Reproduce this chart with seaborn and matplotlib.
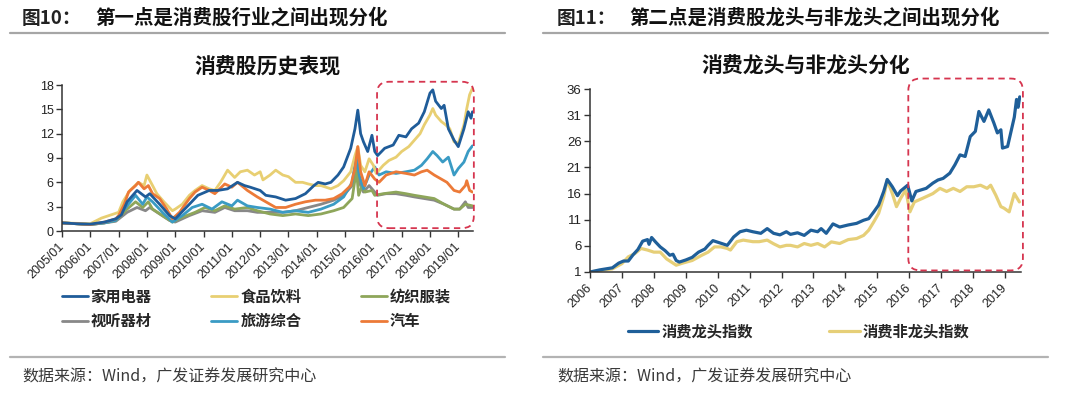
import pandas as pd
import matplotlib
matplotlib.use("Agg")
import matplotlib.pyplot as plt
import seaborn as sns
from matplotlib.patches import FancyBboxPatch
from matplotlib.lines import Line2D

# --- left chart: 消费股历史表现 (decimal years, index values) ---
jd_t = [2005.0, 2005.5, 2006.0, 2006.5, 2006.9, 2007.1, 2007.3, 2007.65, 2007.95, 2008.1, 2008.45, 2008.8,
        2009.0, 2009.5, 2009.8, 2010.2, 2010.5, 2010.85, 2011.2, 2011.45, 2011.65, 2012.0, 2012.2, 2012.55,
        2012.9, 2013.25, 2013.6, 2013.9, 2014.05, 2014.3, 2014.5, 2014.75, 2014.95, 2015.2, 2015.35, 2015.45,
        2015.55, 2015.65, 2015.8, 2015.95, 2016.05, 2016.15, 2016.4, 2016.7, 2016.9, 2017.15, 2017.35, 2017.6,
        2017.8, 2018.0, 2018.1, 2018.2, 2018.4, 2018.5, 2018.65, 2018.85, 2019.0, 2019.2, 2019.35, 2019.45, 2019.5]
jd_v = [1.0, 0.9, 0.85, 1.1, 1.5, 2.0, 3.6, 5.0, 4.2, 4.6, 3.3, 1.9,
        1.5, 3.3, 4.4, 5.0, 5.0, 5.2, 6.0, 5.6, 5.4, 5.0, 4.4, 4.2,
        3.8, 4.0, 4.6, 5.6, 6.0, 5.8, 6.0, 6.9, 7.9, 10.2, 12.6, 14.9,
        12.0, 11.0, 9.8, 11.8, 9.8, 9.3, 10.2, 10.6, 11.8, 11.6, 12.6, 13.3,
        14.7, 17.0, 17.4, 16.0, 15.1, 15.5, 12.6, 11.2, 10.4, 12.6, 14.7, 13.9, 14.7]

sp_t = [2005.0, 2005.5, 2006.0, 2006.4, 2007.0, 2007.15, 2007.4, 2007.7, 2007.9, 2008.0, 2008.2, 2008.35,
        2008.6, 2008.9, 2009.0, 2009.25, 2009.5, 2009.7, 2009.95, 2010.2, 2010.4, 2010.6, 2010.85, 2011.1,
        2011.3, 2011.55, 2011.8, 2012.0, 2012.1, 2012.35, 2012.55, 2012.8, 2013.0, 2013.25, 2013.5, 2013.7,
        2013.95, 2014.15, 2014.5, 2014.75, 2014.95, 2015.2, 2015.35, 2015.45, 2015.55, 2015.7, 2015.85, 2016.0,
        2016.1, 2016.35, 2016.55, 2016.8, 2017.0, 2017.25, 2017.45, 2017.65, 2017.8, 2018.0, 2018.1, 2018.2,
        2018.4, 2018.55, 2018.7, 2018.85, 2019.0, 2019.2, 2019.3, 2019.4, 2019.5]
sp_v = [1.0, 0.95, 0.9, 1.6, 2.3, 3.6, 5.0, 6.0, 5.6, 6.9, 5.6, 4.6,
        3.6, 2.5, 2.7, 3.3, 4.4, 5.0, 5.6, 5.2, 5.0, 6.0, 7.5, 6.6,
        7.3, 7.5, 6.9, 7.3, 6.3, 6.9, 7.5, 6.9, 6.7, 6.0, 6.0, 5.8,
        5.6, 5.6, 5.2, 5.6, 6.2, 7.3, 9.3, 10.4, 8.1, 7.3, 8.9, 8.1,
        7.1, 8.1, 8.7, 9.1, 9.8, 10.4, 11.2, 12.0, 13.1, 14.3, 15.1, 14.3,
        13.5, 13.1, 12.6, 11.0, 10.8, 13.1, 15.1, 16.8, 17.6]

fz_t = [2005.0, 2005.5, 2006.0, 2006.5, 2006.9, 2007.3, 2007.6, 2007.85, 2008.05, 2008.2, 2008.55, 2008.9,
        2009.25, 2009.7, 2010.05, 2010.4, 2010.75, 2011.1, 2011.55, 2011.9, 2012.35, 2012.8, 2013.25, 2013.7,
        2014.15, 2014.6, 2014.95, 2015.25, 2015.4, 2015.48, 2015.6, 2015.7, 2015.95, 2016.05, 2016.35, 2016.8,
        2017.15, 2017.45, 2017.8, 2018.15, 2018.5, 2018.85, 2019.05, 2019.25, 2019.5]
fz_v = [1.0, 0.9, 0.8, 1.0, 1.3, 2.7, 3.6, 2.9, 3.6, 2.7, 1.9, 1.1,
        1.7, 2.3, 2.9, 2.5, 3.1, 2.7, 2.9, 2.5, 2.1, 1.9, 2.1, 1.9,
        2.1, 2.5, 2.9, 4.0, 7.5, 4.4, 5.6, 4.8, 5.0, 4.4, 4.6, 4.8,
        4.6, 4.4, 4.2, 4.0, 3.3, 2.7, 2.7, 3.3, 3.1]

st_t = [2005.0, 2005.5, 2006.0, 2006.5, 2006.9, 2007.3, 2007.65, 2007.95, 2008.1, 2008.45, 2008.8, 2009.0,
        2009.5, 2009.95, 2010.4, 2010.75, 2011.1, 2011.55, 2011.9, 2012.35, 2012.8, 2013.25, 2013.7, 2014.15,
        2014.6, 2014.95, 2015.25, 2015.4, 2015.5, 2015.65, 2015.85, 2016.0, 2016.15, 2016.45, 2016.8, 2017.15,
        2017.45, 2017.8, 2018.15, 2018.5, 2018.85, 2019.05, 2019.25, 2019.35, 2019.5]
st_v = [1.0, 0.9, 0.8, 1.0, 1.2, 2.3, 2.9, 2.5, 2.9, 2.1, 1.3, 1.1,
        1.9, 2.5, 2.3, 2.9, 2.5, 2.5, 2.3, 2.3, 2.3, 2.5, 2.9, 3.3,
        3.8, 4.4, 5.6, 8.1, 6.0, 4.8, 5.6, 5.0, 4.4, 4.6, 4.6, 4.4,
        4.2, 4.0, 3.8, 3.3, 2.7, 2.7, 3.6, 2.9, 2.9]

ly_t = [2005.0, 2005.5, 2006.0, 2006.5, 2006.9, 2007.3, 2007.6, 2007.85, 2008.0, 2008.2, 2008.55, 2008.9,
        2009.25, 2009.6, 2009.95, 2010.3, 2010.65, 2011.0, 2011.2, 2011.55, 2011.9, 2012.35, 2012.8, 2013.25,
        2013.7, 2014.15, 2014.6, 2014.95, 2015.25, 2015.4, 2015.5, 2015.65, 2015.85, 2016.05, 2016.2, 2016.45,
        2016.8, 2017.15, 2017.45, 2017.7, 2017.9, 2018.1, 2018.25, 2018.45, 2018.65, 2018.85, 2019.0, 2019.2,
        2019.35, 2019.5]
ly_v = [1.0, 0.9, 0.8, 1.0, 1.3, 3.1, 4.4, 3.3, 4.2, 3.6, 2.3, 1.1,
        1.9, 2.9, 3.3, 2.7, 3.6, 3.1, 3.8, 3.1, 2.9, 2.7, 2.3, 2.5,
        2.3, 2.7, 3.3, 4.2, 6.0, 9.3, 6.9, 5.2, 6.9, 7.9, 6.9, 7.3,
        7.1, 7.3, 7.5, 8.1, 8.9, 9.8, 9.3, 8.5, 9.1, 6.9, 7.7, 8.5,
        9.8, 10.5]

qc_t = [2005.0, 2005.5, 2006.0, 2006.5, 2006.9, 2007.0, 2007.2, 2007.35, 2007.6, 2007.7, 2007.9, 2008.05,
        2008.2, 2008.45, 2008.7, 2008.9, 2009.15, 2009.5, 2009.7, 2009.95, 2010.2, 2010.4, 2010.75, 2011.0,
        2011.2, 2011.55, 2011.9, 2012.2, 2012.55, 2012.9, 2013.25, 2013.6, 2013.95, 2014.3, 2014.6, 2014.9,
        2015.2, 2015.35, 2015.45, 2015.55, 2015.7, 2015.85, 2016.05, 2016.2, 2016.45, 2016.8, 2017.15, 2017.45,
        2017.7, 2017.9, 2018.15, 2018.4, 2018.6, 2018.85, 2019.05, 2019.25, 2019.3, 2019.4, 2019.5]
qc_v = [1.0, 0.9, 0.8, 1.1, 1.5, 1.9, 3.3, 4.8, 5.6, 6.0, 5.2, 5.6,
        4.6, 4.0, 2.7, 1.5, 2.3, 4.0, 4.8, 5.4, 5.0, 4.6, 5.8, 5.4,
        6.0, 5.0, 4.2, 3.6, 2.9, 2.9, 3.3, 3.6, 3.8, 3.8, 4.0, 4.6,
        5.6, 7.7, 10.4, 7.3, 5.6, 7.3, 6.4, 6.0, 6.9, 7.3, 7.1, 6.9,
        7.3, 7.5, 6.9, 6.4, 6.0, 5.0, 4.8, 5.6, 6.2, 5.0, 4.8]

left_names = ["家用电器", "食品饮料", "纺织服装", "视听器材", "旅游综合", "汽车"]
left_colors = ["#1f5c99", "#e8cf72", "#8ea65a", "#888888", "#3a9bc4", "#ec7a38"]
left_draw_order = ["视听器材", "纺织服装", "旅游综合", "食品饮料", "汽车", "家用电器"]
left_years = list(range(2005, 2020))

# --- right chart: 消费龙头与非龙头分化 ---
lt_t = [2006.0, 2006.3, 2006.7, 2006.9, 2007.05, 2007.2, 2007.35, 2007.5, 2007.65, 2007.8, 2007.85, 2007.93,
        2008.06, 2008.2, 2008.35, 2008.5, 2008.6, 2008.7, 2008.8, 2009.0, 2009.2, 2009.4, 2009.6, 2009.7,
        2009.85, 2010.0, 2010.15, 2010.3, 2010.5, 2010.7, 2010.9, 2011.1, 2011.35, 2011.55, 2011.75, 2011.95,
        2012.15, 2012.28, 2012.5, 2012.71, 2012.92, 2013.13, 2013.24, 2013.4, 2013.61, 2013.82, 2014.09, 2014.35,
        2014.57, 2014.73, 2014.89, 2015.04, 2015.2, 2015.31, 2015.47, 2015.63, 2015.73, 2015.95, 2016.08, 2016.21,
        2016.53, 2016.74, 2016.9, 2017.06, 2017.27, 2017.43, 2017.59, 2017.75, 2017.91, 2018.07, 2018.18, 2018.34,
        2018.49, 2018.65, 2018.76, 2018.87, 2018.92, 2019.08, 2019.29, 2019.36, 2019.41, 2019.46]
lt_v = [1.0, 1.4, 1.8, 2.7, 3.1, 3.1, 4.3, 5.3, 6.9, 7.2, 6.3, 7.6,
        6.7, 5.8, 5.1, 4.2, 4.4, 3.2, 2.9, 3.3, 3.8, 4.8, 5.4, 6.1,
        7.0, 6.7, 6.4, 6.1, 7.7, 8.7, 9.0, 8.7, 8.4, 9.3, 8.4, 8.1,
        8.7, 8.2, 8.5, 8.0, 9.0, 8.7, 9.3, 8.4, 10.2, 9.6, 10.0, 10.3,
        10.9, 11.2, 12.5, 13.8, 16.4, 18.7, 17.3, 15.6, 16.5, 17.6, 14.6, 16.4,
        17.0, 18.0, 18.6, 18.9, 19.9, 21.5, 23.4, 23.1, 26.9, 27.9, 31.7, 29.8,
        32.0, 29.5, 27.6, 28.2, 24.7, 25.0, 30.6, 34.0, 32.5, 34.5]

flt_t = [2006.0, 2006.7, 2007.0, 2007.2, 2007.4, 2007.6, 2007.8, 2008.0, 2008.2, 2008.4, 2008.7, 2008.9,
         2009.2, 2009.5, 2009.7, 2009.9, 2010.1, 2010.3, 2010.4, 2010.6, 2010.8, 2011.1, 2011.3, 2011.55,
         2011.75, 2011.95, 2012.15, 2012.28, 2012.5, 2012.71, 2012.92, 2013.13, 2013.35, 2013.56, 2013.82, 2014.09,
         2014.35, 2014.57, 2014.73, 2014.89, 2015.04, 2015.2, 2015.31, 2015.47, 2015.6, 2015.73, 2015.89, 2016.02,
         2016.16, 2016.42, 2016.74, 2016.96, 2017.17, 2017.38, 2017.59, 2017.8, 2018.02, 2018.23, 2018.44, 2018.55,
         2018.71, 2018.87, 2018.97, 2019.13, 2019.29, 2019.45]
flt_v = [1.0, 1.6, 2.6, 3.9, 4.5, 5.5, 5.2, 4.8, 4.8, 3.5, 2.3, 2.7,
         3.2, 4.2, 4.8, 5.8, 5.8, 5.5, 5.2, 6.8, 7.1, 6.8, 6.8, 7.1,
         6.4, 5.8, 6.1, 6.1, 5.8, 6.45, 6.1, 6.45, 5.8, 6.76, 6.45, 7.2,
         7.4, 8.0, 9.0, 10.6, 12.2, 15.4, 18.6, 16.0, 13.5, 15.1, 16.7, 12.5,
         14.4, 15.1, 16.0, 17.0, 16.4, 17.0, 16.4, 17.3, 17.3, 17.6, 17.0, 17.6,
         15.7, 13.5, 13.2, 12.5, 16.0, 14.4]

right_names = ["消费龙头指数", "消费非龙头指数"]
right_colors = ["#1f5f99", "#e6cf78"]
right_years = list(range(2006, 2020))

CJK = ["Noto Sans CJK SC", "DejaVu Sans"]
NUM = ["Liberation Sans", "DejaVu Sans"]


def long_frame(pairs):
    frames = [pd.DataFrame({"date": t, "value": v, "series": n}) for n, t, v in pairs]
    return pd.concat(frames, ignore_index=True)


def style_axes(ax):
    sns.despine(ax=ax)
    for side in ["left", "bottom"]:
        ax.spines[side].set_color("#333333")
        ax.spines[side].set_linewidth(1.1)
    ax.tick_params(axis="both", direction="out", length=4, width=1, color="#333333",
                   labelsize=9, labelcolor="#222222", pad=2)
    for lab in ax.get_yticklabels() + ax.get_xticklabels():
        lab.set_fontfamily(NUM)
    ax.set_xlabel("")
    ax.set_ylabel("")
    ax.grid(False)


def dashed_box(ax, x0, x1, y0, y1, r, aspect):
    box = FancyBboxPatch((x0, y0), x1 - x0, y1 - y0,
                         boxstyle=f"round,pad=0,rounding_size={r}",
                         mutation_aspect=aspect, transform=ax.transData,
                         fill=False, edgecolor="#d6354f", linewidth=1.3,
                         linestyle=(0, (3.5, 2.5)), clip_on=False, zorder=5)
    ax.add_patch(box)


def main():
    sns.set_style("ticks")
    plt.rcParams["font.family"] = CJK
    plt.rcParams["axes.unicode_minus"] = False

    fig = plt.figure(figsize=(10.8, 3.98), dpi=100)
    W, H = 1080, 398

    # headers, separator lines and source notes
    for x_fig, x_title, num, title, x0, x1 in [
        (22, 95, "图10：", "第一点是消费股行业之间出现分化", 10, 505),
        (557, 629, "图11：", "第二点是消费股龙头与非龙头之间出现分化", 543, 1048),
    ]:
        fig.text(x_fig / W, 1 - 18 / H, num, fontsize=13.5, fontweight="bold",
                 color="#222222", va="center", ha="left")
        fig.text(x_title / W, 1 - 18 / H, title, fontsize=14, fontweight="bold",
                 color="#111111", va="center", ha="left")
        fig.add_artist(Line2D([x0 / W, x1 / W], [1 - 33 / H, 1 - 33 / H],
                              color="#a6a6a6", lw=1.6, transform=fig.transFigure))
        fig.add_artist(Line2D([x0 / W, x1 / W], [1 - 357 / H, 1 - 357 / H],
                              color="#b3b3b3", lw=1.6, transform=fig.transFigure))
        fig.text(x_fig / W, 1 - 377 / H, "数据来源：Wind，广发证券发展研究中心",
                 fontsize=11.5, color="#3a3a3a", va="center", ha="left")

    # --- left chart ---
    ax1 = fig.add_axes([62 / W, 1 - 231 / H, 411 / W, 146 / H])
    df_left = long_frame(zip(left_names, [jd_t, sp_t, fz_t, st_t, ly_t, qc_t],
                             [jd_v, sp_v, fz_v, st_v, ly_v, qc_v]))
    palette_left = dict(zip(left_names, left_colors))
    sns.lineplot(data=df_left, x="date", y="value", hue="series", hue_order=left_draw_order,
                 palette=palette_left, estimator=None, sort=False, linewidth=2.0,
                 legend=False, ax=ax1)
    ax1.set_xlim(2005, 2019.52)
    ax1.set_ylim(0, 18)
    ax1.set_yticks(range(0, 19, 3))
    ax1.set_xticks(left_years)
    ax1.set_xticklabels([f"{y}/01" for y in left_years], rotation=45, ha="right",
                        va="center", rotation_mode="anchor")
    style_axes(ax1)
    ax1.tick_params(axis="x", pad=6)
    ax1.set_title("消费股历史表现", fontsize=15, fontweight="bold", color="#111111", pad=8)
    dashed_box(ax1, 2016.13, 2019.55, 0.35, 18.4, 0.42, 3.5)

    # legend fills column by column, so order the names to read row by row
    legend_order = [left_names[i] for i in (0, 3, 1, 4, 2, 5)]
    handles = [Line2D([], [], color=palette_left[n], lw=2) for n in legend_order]
    fig.legend(handles, legend_order, loc="center left", bbox_to_anchor=(48 / W, 1 - 309 / H),
               ncol=3, frameon=False, handlelength=1.7, handletextpad=0.2,
               columnspacing=3.9, labelspacing=0.55, prop={"size": 11, "weight": "bold"})

    # --- right chart ---
    ax2 = fig.add_axes([590 / W, 1 - 272 / H, 431 / W, 183 / H])
    df_right = long_frame(zip(right_names, [lt_t, flt_t], [lt_v, flt_v]))
    palette_right = dict(zip(right_names, right_colors))
    sns.lineplot(data=df_right, x="date", y="value", hue="series", hue_order=right_names[::-1],
                 palette=palette_right, estimator=None, sort=False, linewidth=2.3,
                 legend=False, ax=ax2)
    ax2.set_xlim(2006, 2019.5)
    ax2.set_ylim(1, 36)
    ax2.set_yticks(range(1, 37, 5))
    ax2.set_xticks(right_years)
    ax2.set_xticklabels([str(y) for y in right_years], rotation=45, ha="right",
                        va="center", rotation_mode="anchor")
    style_axes(ax2)
    ax2.tick_params(axis="x", pad=6)
    ax2.tick_params(axis="y", labelsize=9.5)
    ax2.set_title("消费龙头与非龙头分化", fontsize=15, fontweight="bold", color="#111111", pad=12)
    dashed_box(ax2, 2015.97, 2019.56, 1.3, 38.0, 0.38, 6.1)

    handles = [Line2D([], [], color=palette_right[n], lw=2.3) for n in right_names]
    fig.legend(handles, right_names, loc="center left", bbox_to_anchor=(614 / W, 1 - 331 / H),
               ncol=2, frameon=False, handlelength=2.0, handletextpad=0.2,
               columnspacing=5.0, prop={"size": 11, "weight": "bold"})

    fig.savefig("out.png", dpi=100, facecolor="white")


if __name__ == "__main__":
    main()
